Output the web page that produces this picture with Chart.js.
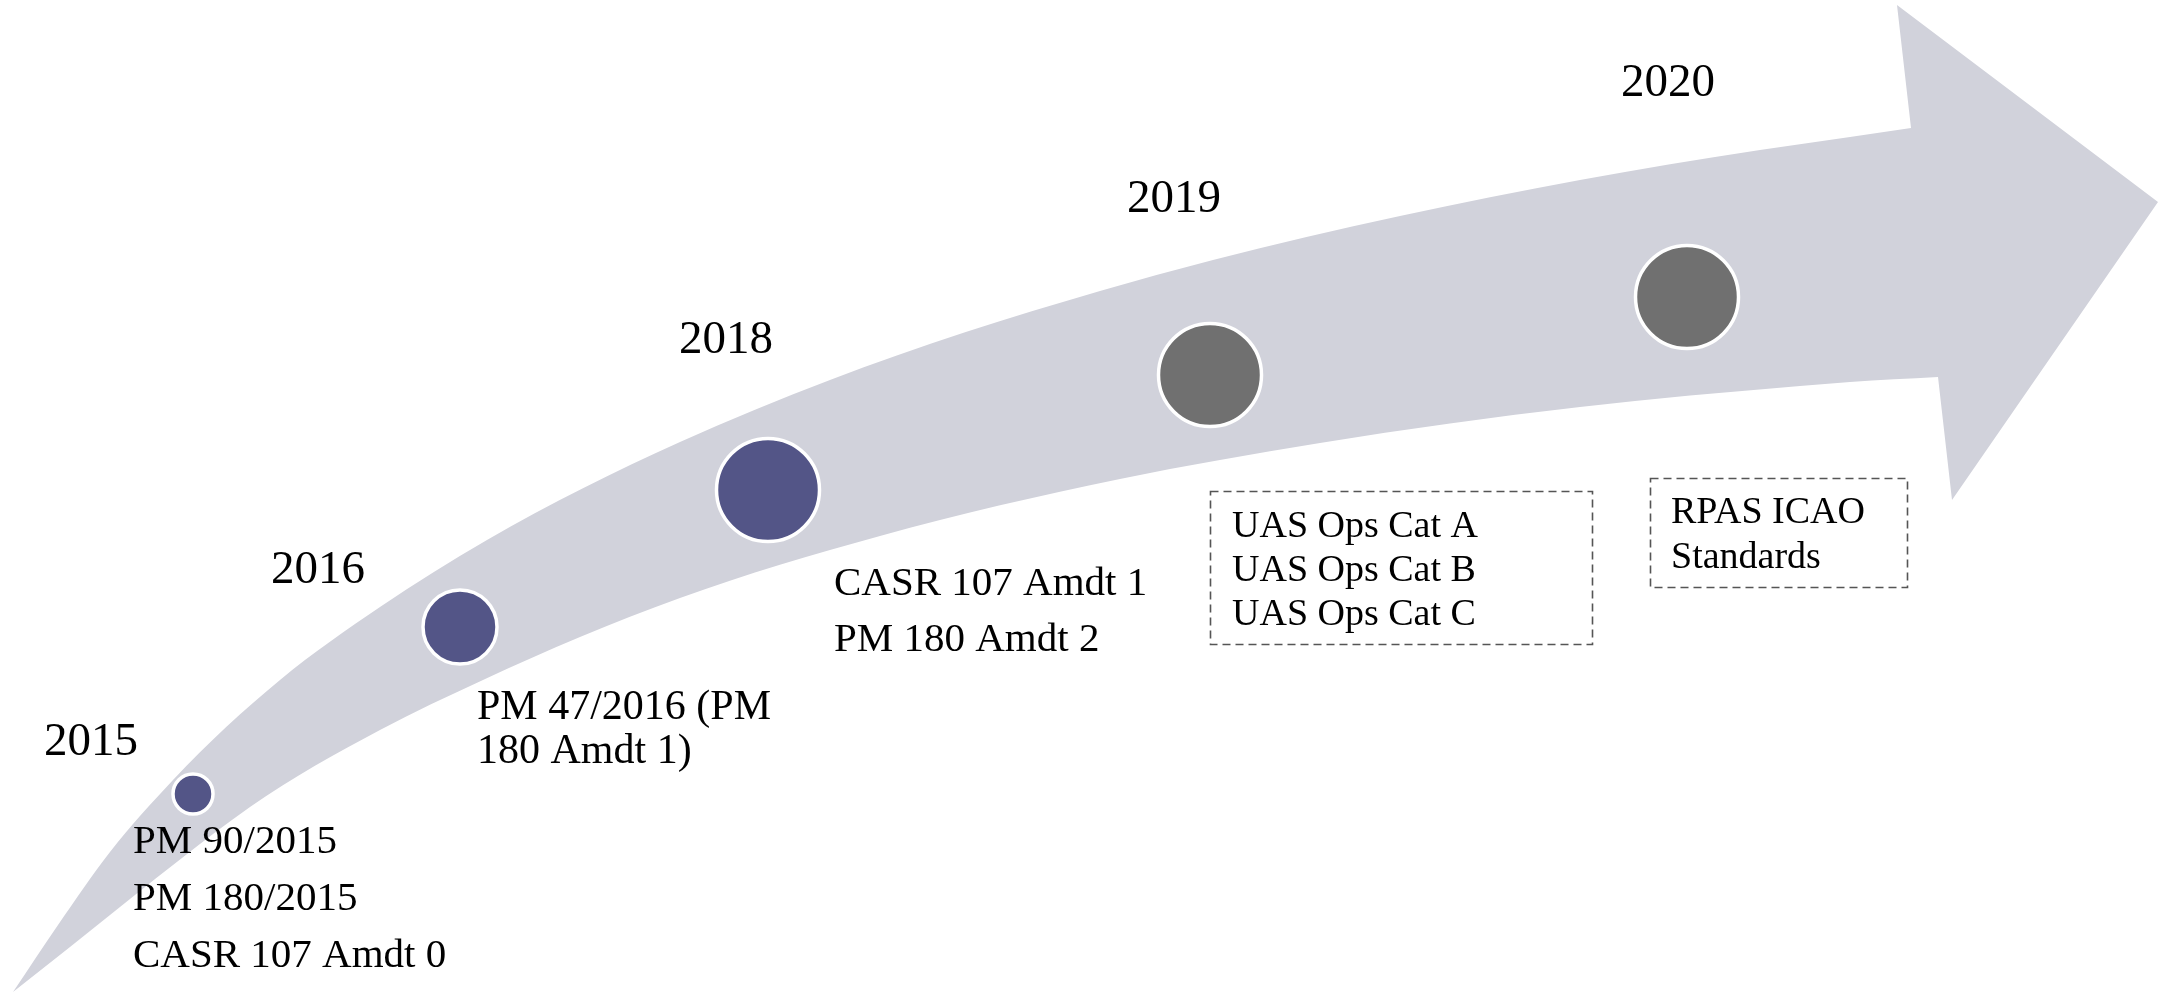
<!DOCTYPE html>
<html>
<head>
<meta charset="utf-8">
<script src="https://cdn.jsdelivr.net/npm/chart.js@4/dist/chart.umd.min.js"></script>
<style>
  html, body { margin: 0; padding: 0; background: #ffffff; }
  #wrap { width: 2166px; height: 993px; }
</style>
</head>
<body>
<div id="wrap"><canvas id="c" width="2166" height="993"></canvas></div>
<script>
// ---------- data ----------
const years = ['2015', '2016', '2018', '2019', '2020'];
const milestoneX = [193, 460, 768, 1210, 1687];
const milestoneY = [794, 627, 490, 375, 297];
const milestoneSize = [20, 37, 51.5, 51.5, 51.5];
const milestoneDone = [true, true, true, false, false];
const items2015 = ['PM 90/2015', 'PM 180/2015', 'CASR 107 Amdt 0'];
const items2016 = ['PM 47/2016 (PM', '180 Amdt 1)'];
const items2018 = ['CASR 107 Amdt 1', 'PM 180 Amdt 2'];
const items2019 = ['UAS Ops Cat A', 'UAS Ops Cat B', 'UAS Ops Cat C'];
const items2020 = ['RPAS ICAO', 'Standards'];
const itemGroups = [items2015, items2016, items2018, items2019, items2020];

// arrow outline (in axis units)
const arrowTopX = [13, 58, 110, 173, 280, 380, 487, 680, 830, 1100, 1213, 1400, 1580, 1760, 1850, 1911];
const arrowTopY = [992, 925, 852, 780, 680, 607, 540, 442, 380, 291, 260, 216, 180, 150, 137, 128];
const arrowHeadX = [1897, 2158, 1952];
const arrowHeadY = [5, 202, 500];
const arrowBottomX = [1938, 1850, 1800, 1580, 1320, 1120, 880, 680, 580, 483, 380, 250, 182, 130, 70, 13];
const arrowBottomY = [377, 382, 386, 407, 443, 479, 536, 598, 637, 680, 730, 807, 858, 899, 947, 992];

// ---------- layout / style ----------
const COL_ARROW = '#D1D2DB';
const COL_DONE = '#535587';
const COL_PLAN = '#707070';
const FONT = '"Liberation Serif", "Times New Roman", serif';
const yearPos = [
  {x: 91, y: 755}, {x: 318, y: 583}, {x: 726, y: 353}, {x: 1174, y: 212}, {x: 1668, y: 96}
];
const itemLayout = [
  {x: 133, y: 853, dy: 57, size: 41},
  {x: 477, y: 719, dy: 44, size: 42},
  {x: 834, y: 595, dy: 56, size: 41},
  {x: 1232, y: 537, dy: 44, size: 38, box: [1210, 491, 1592, 644]},
  {x: 1671, y: 523, dy: 45, size: 38, box: [1650, 478, 1907, 587]}
];

// smooth cubic Hermite curve through points (y as a function of x)
function smoothPath(ctx, pts, first) {
  const n = pts.length;
  if (first) ctx.moveTo(pts[0][0], pts[0][1]); else ctx.lineTo(pts[0][0], pts[0][1]);
  const h = [], d = [];
  for (let i = 0; i < n - 1; i++) {
    h.push(pts[i + 1][0] - pts[i][0]);
    d.push((pts[i + 1][1] - pts[i][1]) / h[i]);
  }
  const m = new Array(n);
  m[0] = d[0];
  m[n - 1] = d[n - 2];
  for (let i = 1; i < n - 1; i++) {
    m[i] = (d[i - 1] * h[i] + d[i] * h[i - 1]) / (h[i - 1] + h[i]);
  }
  for (let i = 0; i < n - 1; i++) {
    const p1 = pts[i], p2 = pts[i + 1], hh = h[i] / 3;
    ctx.bezierCurveTo(p1[0] + hh, p1[1] + m[i] * hh, p2[0] - hh, p2[1] - m[i + 1] * hh, p2[0], p2[1]);
  }
}

const arrowPlugin = {
  id: 'arrowShape',
  beforeDatasetsDraw(chart) {
    const {ctx, scales: {x, y}} = chart;
    const top = arrowTopX.map((v, i) => [x.getPixelForValue(v), y.getPixelForValue(arrowTopY[i])]);
    const bot = arrowBottomX.map((v, i) => [x.getPixelForValue(v), y.getPixelForValue(arrowBottomY[i])]);
    ctx.save();
    ctx.beginPath();
    smoothPath(ctx, top, true);
    arrowHeadX.forEach((v, i) => ctx.lineTo(x.getPixelForValue(v), y.getPixelForValue(arrowHeadY[i])));
    smoothPath(ctx, bot, false);
    ctx.closePath();
    ctx.fillStyle = COL_ARROW;
    ctx.fill();
    ctx.restore();
  }
};

const textPlugin = {
  id: 'timelineText',
  afterDatasetsDraw(chart) {
    const {ctx, scales: {x, y}} = chart;
    ctx.save();
    ctx.fillStyle = '#000000';
    ctx.textBaseline = 'alphabetic';
    // years
    ctx.font = '47px ' + FONT;
    ctx.textAlign = 'center';
    years.forEach((t, i) => {
      ctx.fillText(t, x.getPixelForValue(yearPos[i].x), y.getPixelForValue(yearPos[i].y));
    });
    // items
    ctx.textAlign = 'left';
    itemGroups.forEach((lines, i) => {
      const L = itemLayout[i];
      if (L.box) {
        const x0 = x.getPixelForValue(L.box[0]), y0 = y.getPixelForValue(L.box[1]);
        const x1 = x.getPixelForValue(L.box[2]), y1 = y.getPixelForValue(L.box[3]);
        ctx.save();
        ctx.strokeStyle = '#555555';
        ctx.lineWidth = 1.6;
        ctx.setLineDash([8, 5]);
        ctx.strokeRect(x0 + 0.5, y0 + 0.5, x1 - x0, y1 - y0);
        ctx.restore();
      }
      ctx.font = L.size + 'px ' + FONT;
      lines.forEach((t, j) => {
        ctx.fillText(t, x.getPixelForValue(L.x), y.getPixelForValue(L.y + j * L.dy));
      });
    });
    ctx.restore();
  }
};

new Chart(document.getElementById('c'), {
  type: 'scatter',
  data: {
    datasets: [{
      label: 'Milestones',
      data: milestoneX.map((v, i) => ({x: v, y: milestoneY[i]})),
      pointRadius: milestoneSize,
      pointHoverRadius: milestoneSize,
      pointBackgroundColor: milestoneDone.map(d => d ? COL_DONE : COL_PLAN),
      pointBorderColor: '#ffffff',
      pointBorderWidth: 3.5,
      pointHoverBorderWidth: 3.5,
      showLine: false,
      clip: false
    }]
  },
  options: {
    responsive: false,
    devicePixelRatio: 1,
    animation: false,
    events: [],
    layout: {padding: 0, autoPadding: false},
    plugins: {legend: {display: false}, tooltip: {enabled: false}},
    scales: {
      x: {type: 'linear', min: 0, max: 2166, display: false},
      y: {type: 'linear', min: 0, max: 993, reverse: true, display: false}
    }
  },
  plugins: [arrowPlugin, textPlugin]
});
</script>
</body>
</html>
